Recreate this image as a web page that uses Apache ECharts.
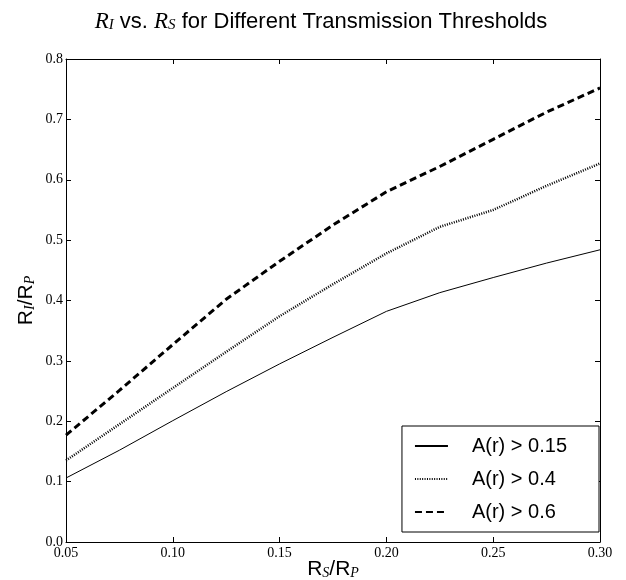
<!DOCTYPE html>
<html>
<head>
<meta charset="utf-8">
<script src="https://cdn.jsdelivr.net/npm/echarts@6/dist/echarts.min.js"></script>
<style>html,body{margin:0;padding:0;background:#fff}#c{width:626px;height:580px}</style>
</head>
<body>
<div id="c"></div>
<script>
var xValues = [0.05, 0.075, 0.10, 0.125, 0.15, 0.175, 0.20, 0.225, 0.25, 0.275, 0.30];
var solid015 = [0.106, 0.152, 0.201, 0.249, 0.295, 0.339, 0.382, 0.413, 0.438, 0.462, 0.484];
var dotted04 = [0.135, 0.195, 0.255, 0.315, 0.374, 0.427, 0.478, 0.522, 0.550, 0.590, 0.627];
var dashed06 = [0.177, 0.251, 0.327, 0.402, 0.465, 0.525, 0.580, 0.622, 0.667, 0.712, 0.752];
var seriesNames = ['A(r) > 0.15', 'A(r) > 0.4', 'A(r) > 0.6'];
var xTicks = [0.05, 0.10, 0.15, 0.20, 0.25, 0.30];
var yTicks = [0.0, 0.1, 0.2, 0.3, 0.4, 0.5, 0.6, 0.7, 0.8];

function pairs(ys){ return xValues.map(function(x,i){ return [x, ys[i]]; }); }

var serif = 'Liberation Serif';
var sans = 'Liberation Sans';
var tickLabel = { color:'#000', fontFamily: serif, fontSize: 14 };
var nameRich = { r:{fontFamily:sans, fontSize:21, color:'#000'}, s:{fontFamily:serif, fontStyle:'italic', fontSize:14, color:'#000', padding:[8,0,0,0]} };

var chart = echarts.init(document.getElementById('c'), null, {renderer:'canvas'});
function xAx(pos, show){
  return {
    type:'value', position:pos, min:0.05, max:0.30, interval:0.05,
    axisLine:{show:true, onZero:false, lineStyle:{color:'#000', width:1}},
    axisTick:{show:true, inside:true, length:5, lineStyle:{color:'#000'}},
    axisLabel: show ? Object.assign({margin:4, formatter:function(v){return v.toFixed(2);}}, tickLabel) : {show:false},
    splitLine:{show:false},
    name: show ? '{r|R}{s|S}{r|/R}{s|P}' : '',
    nameLocation:'middle', nameGap: 16, nameMoveOverlap:false,
    nameTextStyle:{ rich: nameRich }
  };
}
function yAx(pos, show){
  return {
    type:'value', position:pos, min:0, max:0.8, interval:0.1,
    axisLine:{show:true, onZero:false, lineStyle:{color:'#000', width:1}},
    axisTick:{show:true, inside:true, length:5, lineStyle:{color:'#000'}},
    axisLabel: show ? Object.assign({margin:3, formatter:function(v){return v.toFixed(1);}}, tickLabel) : {show:false},
    splitLine:{show:false},
    name: show ? '{r|R}{s|I}{r|/R}{s|P}' : '',
    nameLocation:'middle', nameGap: 29, nameMoveOverlap:false,
    nameTextStyle:{ rich: nameRich }
  };
}

chart.setOption({
  animation:false,
  backgroundColor:'#fff',
  title:{
    text:'{m|R}{ms|I}{t| vs. }{m|R}{ms|S}{t| for Different Transmission Thresholds}',
    left:316, top:5, textAlign:'center',
    textStyle:{ fontWeight:'normal', rich:{
      m:{fontFamily:serif, fontStyle:'italic', fontWeight:'normal', fontSize:23, color:'#000'},
      ms:{fontFamily:serif, fontStyle:'italic', fontWeight:'normal', fontSize:15, color:'#000', padding:[8,0,0,0]},
      t:{fontFamily:sans, fontWeight:'normal', fontSize:22, color:'#000'}
    }}
  },
  grid: { left: 66, top: 59, right: 26, bottom: 38, containLabel:false, outerBoundsMode:'none' },
  legend:{
    data: seriesNames,
    orient:'vertical', right:27, bottom:48,
    backgroundColor:'#fff', borderColor:'#000', borderWidth:1, borderRadius:0,
    padding:[10,32,10,12],
    itemWidth:33, itemHeight:18, itemGap:13,
    itemStyle:{color:'rgba(0,0,0,0)', borderColor:'rgba(0,0,0,0)', borderWidth:0, opacity:0},
    textStyle:{fontFamily:sans, fontSize:20, color:'#000', padding:[0,0,0,19]}
  },
  xAxis:[ xAx('bottom', true), xAx('top', false) ],
  yAxis:[ yAx('left', true), yAx('right', false) ],
  series:[
    { name:seriesNames[0], type:'line', data:pairs(solid015), symbol:'none', lineStyle:{color:'#000', width:1, type:'solid'}, itemStyle:{color:'#000'} },
    { name:seriesNames[1], type:'line', data:pairs(dotted04), symbol:'none', lineStyle:{color:'#000', width:2.5, type:[1,1.4], cap:'butt'}, itemStyle:{color:'#000'} },
    { name:seriesNames[2], type:'line', data:pairs(dashed06), symbol:'none', lineStyle:{color:'#000', width:3, type:[7,4], cap:'butt'}, itemStyle:{color:'#000'} }
  ]
});
</script>
</body>
</html>
